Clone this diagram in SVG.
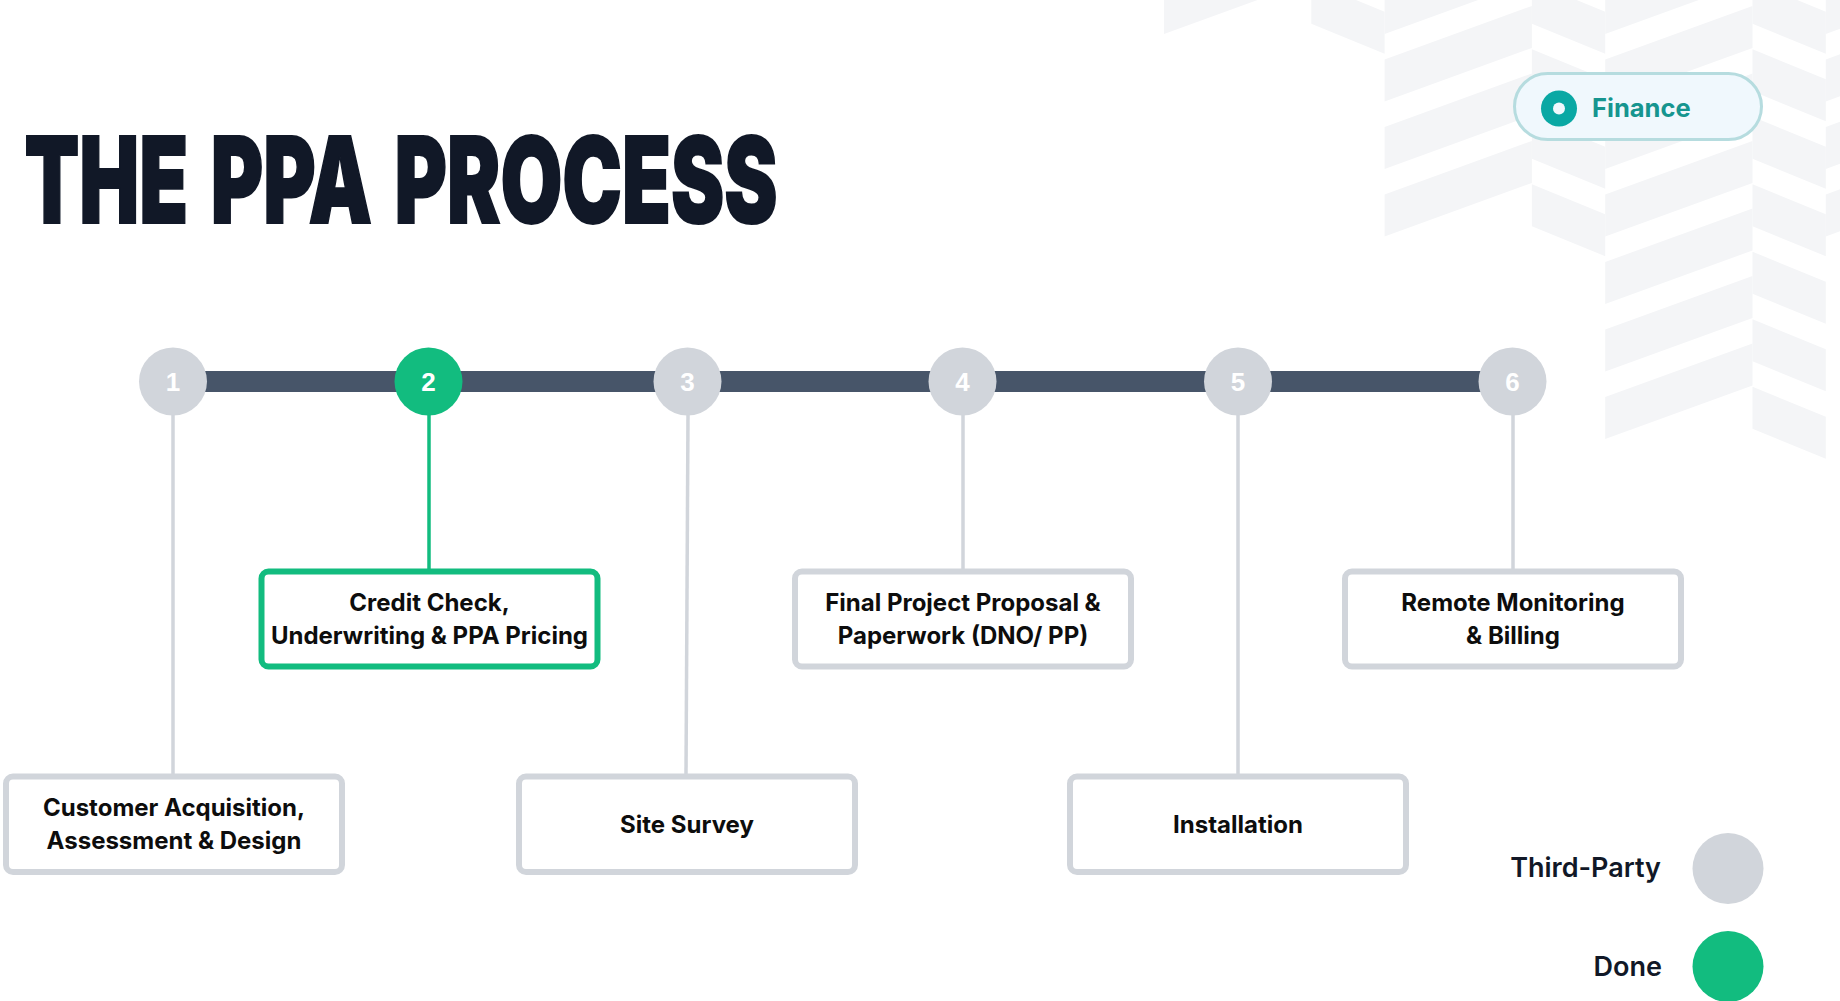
<svg xmlns="http://www.w3.org/2000/svg" width="1840" height="1001" viewBox="0 0 1840 1001">
  <defs>
    <style>
      .bg { fill: #f4f5f7; }
      .title { font-family: Inter, "Liberation Sans", sans-serif; font-weight: 900; font-size: 120px; word-spacing: 10px; fill: #111827; stroke: #111827; stroke-width: 2; }
      .bar { fill: #475569; }
      .dot-gray { fill: #d1d5db; }
      .dot-green { fill: #12bc7f; }
      .num { font-family: "Liberation Sans", Arial, sans-serif; font-weight: 700; font-size: 26px; fill: #ffffff; text-anchor: middle; }
      .box { fill: #ffffff; stroke: #d1d5db; stroke-width: 6; }
      .box-done { fill: #ffffff; stroke: #12bc7f; stroke-width: 6; }
      .lbl { font-family: Inter, "Liberation Sans", sans-serif; font-weight: 700; font-size: 24px; fill: #0d0d0d; text-anchor: middle; }
      .link { stroke: #d1d5db; stroke-width: 3.5; fill: none; }
      .link-done { stroke: #12bc7f; stroke-width: 3.5; fill: none; }
      .legend { font-family: Inter, "Liberation Sans", sans-serif; font-weight: 600; font-size: 27px; fill: #111827; text-anchor: end; }
      .pill { fill: #f0f8fd; stroke: #b6dcdf; stroke-width: 3; }
      .pill-text { font-family: Inter, "Liberation Sans", sans-serif; font-weight: 700; font-size: 25.5px; fill: #16958f; }
    </style>
  </defs>
  <rect width="1840" height="1001" fill="#ffffff"/>

  <!-- background chevron pattern -->
  <g id="background" class="bg">
    <polygon points="1164,-8 1311.3,-61.55 1311.3,-19.55 1164,34"/>
    <polygon points="1311.3,-18.3 1384.6,11.7 1384.6,53.7 1311.3,23.7"/>
    <polygon points="1384.6,-8 1531.9,-61.55 1531.9,-19.55 1384.6,34"/>
    <polygon points="1384.6,59.5 1531.9,5.95 1531.9,47.95 1384.6,101.5"/>
    <polygon points="1384.6,127 1531.9,73.45 1531.9,115.45 1384.6,169"/>
    <polygon points="1384.6,194.5 1531.9,140.95 1531.9,182.95 1384.6,236.5"/>
    <polygon points="1531.9,-18.3 1605.2,11.7 1605.2,53.7 1531.9,23.7"/>
    <polygon points="1531.9,49.2 1605.2,79.2 1605.2,121.2 1531.9,91.2"/>
    <polygon points="1531.9,116.7 1605.2,146.7 1605.2,188.7 1531.9,158.7"/>
    <polygon points="1531.9,184.2 1605.2,214.2 1605.2,256.2 1531.9,226.2"/>
    <polygon points="1605.2,-8 1752.5,-61.55 1752.5,-19.55 1605.2,34"/>
    <polygon points="1605.2,59.5 1752.5,5.95 1752.5,47.95 1605.2,101.5"/>
    <polygon points="1605.2,127 1752.5,73.45 1752.5,115.45 1605.2,169"/>
    <polygon points="1605.2,194.5 1752.5,140.95 1752.5,182.95 1605.2,236.5"/>
    <polygon points="1605.2,262 1752.5,208.45 1752.5,250.45 1605.2,304"/>
    <polygon points="1605.2,329.5 1752.5,275.95 1752.5,317.95 1605.2,371.5"/>
    <polygon points="1605.2,397 1752.5,343.45 1752.5,385.45 1605.2,439"/>
    <polygon points="1752.5,-18.3 1825.8,11.7 1825.8,53.7 1752.5,23.7"/>
    <polygon points="1752.5,49.2 1825.8,79.2 1825.8,121.2 1752.5,91.2"/>
    <polygon points="1752.5,116.7 1825.8,146.7 1825.8,188.7 1752.5,158.7"/>
    <polygon points="1752.5,184.2 1825.8,214.2 1825.8,256.2 1752.5,226.2"/>
    <polygon points="1752.5,251.7 1825.8,281.7 1825.8,323.7 1752.5,293.7"/>
    <polygon points="1752.5,319.2 1825.8,349.2 1825.8,391.2 1752.5,361.2"/>
    <polygon points="1752.5,386.7 1825.8,416.7 1825.8,458.7 1752.5,428.7"/>
    <polygon points="1825.8,-8 1973.1,-61.55 1973.1,-19.55 1825.8,34"/>
    <polygon points="1825.8,59.5 1973.1,5.95 1973.1,47.95 1825.8,101.5"/>
    <polygon points="1825.8,127 1973.1,73.45 1973.1,115.45 1825.8,169"/>
    <polygon points="1825.8,194.5 1973.1,140.95 1973.1,182.95 1825.8,236.5"/>
  </g>

  <!-- title -->
  <g id="title">
    <text class="title" x="24.5" y="223" textLength="753" lengthAdjust="spacingAndGlyphs">THE PPA PROCESS</text>
  </g>

  <!-- finance tag -->
  <g id="finance-tag">
    <rect class="pill" x="1514.5" y="73.5" width="247" height="66" rx="33"/>
    <circle cx="1559" cy="108.5" r="18" fill="#0aa8a4"/>
    <circle cx="1559" cy="108.5" r="6" fill="#f0f8fd"/>
    <text class="pill-text" x="1592" y="117">Finance</text>
  </g>

  <!-- timeline bar -->
  <rect id="timeline" class="bar" x="173" y="371" width="1340" height="21"/>

  <!-- connectors -->
  <g id="connectors">
    <line class="link" x1="173" y1="414" x2="173" y2="774"/>
    <line class="link-done" x1="429" y1="414" x2="429" y2="569"/>
    <line class="link" x1="688" y1="414" x2="686" y2="774"/>
    <line class="link" x1="963" y1="414" x2="963" y2="569"/>
    <line class="link" x1="1238" y1="414" x2="1238" y2="774"/>
    <line class="link" x1="1513" y1="414" x2="1513" y2="569"/>
  </g>

  <!-- step markers -->
  <g id="step-1"><circle class="dot-gray" cx="173" cy="381.5" r="34"/><text class="num" x="173" y="391">1</text></g>
  <g id="step-2"><circle class="dot-green" cx="428.5" cy="381.5" r="34"/><text class="num" x="428.5" y="391">2</text></g>
  <g id="step-3"><circle class="dot-gray" cx="687.5" cy="381.5" r="34"/><text class="num" x="687.5" y="391">3</text></g>
  <g id="step-4"><circle class="dot-gray" cx="962.5" cy="381.5" r="34"/><text class="num" x="962.5" y="391">4</text></g>
  <g id="step-5"><circle class="dot-gray" cx="1238" cy="381.5" r="34"/><text class="num" x="1238" y="391">5</text></g>
  <g id="step-6"><circle class="dot-gray" cx="1512.5" cy="381.5" r="34"/><text class="num" x="1512.5" y="391">6</text></g>

  <!-- boxes -->
  <g id="box-1">
    <rect class="box" x="6" y="776.5" width="336" height="95.5" rx="7"/>
    <text class="lbl" x="174" y="816">Customer Acquisition,</text>
    <text class="lbl" x="174" y="849">Assessment &amp; Design</text>
  </g>
  <g id="box-2">
    <rect class="box-done" x="261.5" y="571.5" width="336" height="95" rx="7"/>
    <text class="lbl" x="429.5" y="611">Credit Check,</text>
    <text class="lbl" x="429.5" y="644">Underwriting &amp; PPA Pricing</text>
  </g>
  <g id="box-3">
    <rect class="box" x="519" y="776.5" width="336" height="95.5" rx="7"/>
    <text class="lbl" x="687" y="832.5">Site Survey</text>
  </g>
  <g id="box-4">
    <rect class="box" x="795" y="571.5" width="336" height="95" rx="7"/>
    <text class="lbl" x="963" y="611">Final Project Proposal &amp;</text>
    <text class="lbl" x="963" y="644">Paperwork (DNO/ PP)</text>
  </g>
  <g id="box-5">
    <rect class="box" x="1070" y="776.5" width="336" height="95.5" rx="7"/>
    <text class="lbl" x="1238" y="832.5">Installation</text>
  </g>
  <g id="box-6">
    <rect class="box" x="1345" y="571.5" width="336" height="95" rx="7"/>
    <text class="lbl" x="1513" y="611">Remote Monitoring</text>
    <text class="lbl" x="1513" y="644">&amp; Billing</text>
  </g>

  <!-- legend -->
  <g id="legend-third-party">
    <text class="legend" x="1661" y="877">Third-Party</text>
    <circle class="dot-gray" cx="1728" cy="868.5" r="35.5"/>
  </g>
  <g id="legend-done">
    <text class="legend" x="1662" y="975.5">Done</text>
    <circle class="dot-green" cx="1728" cy="966.5" r="35.5"/>
  </g>
</svg>
